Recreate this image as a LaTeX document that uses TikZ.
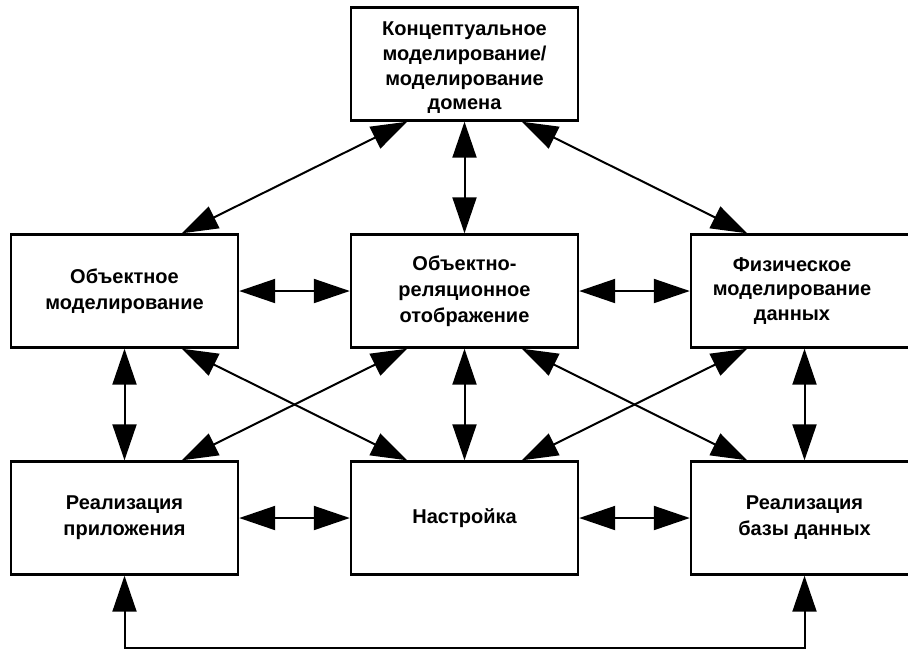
\documentclass[tikz,border=0pt]{standalone}
\usepackage{fontspec}
\setmainfont{Liberation Sans}
\usetikzlibrary{arrows.meta,calc}

\begin{document}
\begin{tikzpicture}[x=0.5pt,y=-0.5pt,
  box/.style={draw,line width=1.2pt,minimum width=113.5pt,minimum height=56.5pt,
    inner sep=0pt,align=center,font=\bfseries\fontsize{10}{13}\selectfont},
  boxtext/.style={align=center,inner sep=0pt,font=\bfseries\fontsize{10}{12.3}\selectfont},
  link/.style={line width=1pt,{Triangle[length=18pt,width=12pt]}-{Triangle[length=18pt,width=12pt]}}]
\clip (0,0) rectangle (908,650);
% boxes
\node[box] (concept) at (464.5,64) {};
\node[boxtext] (concepttext) at (464.5,68) {Концептуальное\\моделирование/\\моделирование\\домена};
\node[box] (objmod)  at (124.5,291) {Объектное\\моделирование};
\node[box] (orm)     at (464.5,291) {Объектно-\\реляционное\\отображение};
\node[box] (physmod) at (804.5,291) {};
\node[boxtext] (physmodtext) at (792,291) {Физическое\\моделирование\\данных};
\node[box] (appimpl) at (124.5,518) {Реализация\\приложения};
\node[box] (tuning)  at (464.5,518) {Настройка};
\node[box] (dbimpl)  at (804.5,518) {Реализация\\базы данных};
% links from the top
\draw[link] ($(concept.south)!0.5!(concept.south west)$) -- ($(objmod.north)!0.5!(objmod.north east)$);
\draw[link] (concept) -- (orm);
\draw[link] ($(concept.south)!0.5!(concept.south east)$) -- ($(physmod.north)!0.5!(physmod.north west)$);
% rows
\draw[link] (objmod) -- (orm);
\draw[link] (orm) -- (physmod);
\draw[link] (appimpl) -- (tuning);
\draw[link] (tuning) -- (dbimpl);
% columns
\draw[link] (objmod) -- (appimpl);
\draw[link] (orm) -- (tuning);
\draw[link] (physmod) -- (dbimpl);
% crossings
\draw[link] ($(objmod.south)!0.5!(objmod.south east)$) -- ($(tuning.north)!0.5!(tuning.north west)$);
\draw[link] ($(orm.south)!0.5!(orm.south west)$) -- ($(appimpl.north)!0.5!(appimpl.north east)$);
\draw[link] ($(orm.south)!0.5!(orm.south east)$) -- ($(dbimpl.north)!0.5!(dbimpl.north west)$);
\draw[link] ($(physmod.south)!0.5!(physmod.south west)$) -- ($(tuning.north)!0.5!(tuning.north east)$);
% loop at the bottom
\coordinate (loop) at (0,648);
\draw[link] (appimpl.south) -- (appimpl.south |- loop) -| (dbimpl.south);
\end{tikzpicture}
\end{document}
